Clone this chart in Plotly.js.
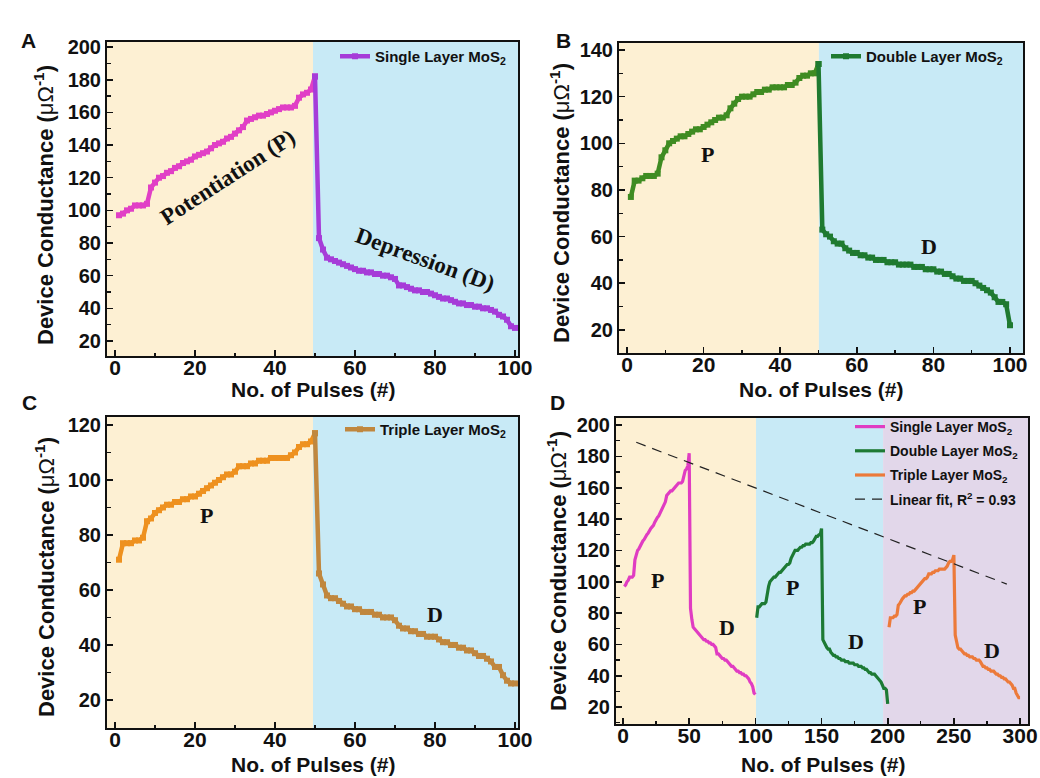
<!DOCTYPE html>
<html><head><meta charset="utf-8">
<script src="https://cdn.plot.ly/plotly-3.0.1.min.js"></script>
<style>html,body{margin:0;padding:0;background:#fff}#chart{width:1040px;height:778px}</style>
</head><body><div id="chart"></div>
<script>
// ---------- data ----------
const pulses = [1,2,3,4,5,6,7,8,9,10,11,12,13,14,15,16,17,18,19,20,21,22,23,24,25,26,27,28,29,30,31,32,33,34,35,36,37,38,39,40,41,42,43,44,45,46,47,48,49,50,
51,52,53,54,55,56,57,58,59,60,61,62,63,64,65,66,67,68,69,70,71,72,73,74,75,76,77,78,79,80,81,82,83,84,85,86,87,88,89,90,91,92,93,94,95,96,97,98,99,100];

const singleLayer = [97,98,100,101,103,103,103,104,114,117,120,121,123,124,126,127,129,130,131,133,134,135,136,138,140,141,142,144,145,147,149,151,155,156,157,158,158,159,160,161,162,163,163,163,164,169,171,172,174,182,
83,76,71,70,69,68,67,66,65,64,63,63,62,62,61,61,60,60,59,58,54,54,53,52,51,51,50,50,49,48,47,46,46,45,44,43,43,42,42,41,41,40,40,39,38,36,35,33,29,28];

const doubleLayer = [77,84,84,85,86,86,86,87,94,97,100,101,102,103,103,104,105,106,106,107,108,109,110,111,111,112,115,117,119,120,120,120,121,122,122,123,123,124,124,124,124,125,125,126,128,129,129,130,130,134,
63,61,60,58,57,57,55,54,53,53,52,52,51,51,50,50,50,49,49,49,48,48,48,48,47,47,47,46,46,46,45,45,44,44,43,42,42,41,41,41,40,39,38,37,36,34,32,32,31,22];

const tripleLayer = [71,77,77,77,78,78,79,85,86,88,89,90,91,91,92,92,93,93,94,94,95,96,97,98,99,100,101,102,102,103,105,105,105,106,106,107,107,107,108,108,108,108,108,109,110,112,113,113,114,117,
66,62,58,57,57,56,55,54,54,53,53,52,52,52,51,51,50,50,50,49,47,46,46,45,45,44,44,43,43,43,42,41,41,40,40,39,39,38,38,37,36,36,35,34,32,32,29,27,26,26];

const fitX = [10, 290];
const fitY = [189, 98.5];

const seriesNames = ['Single Layer MoS<sub>2</sub>', 'Double Layer MoS<sub>2</sub>', 'Triple Layer MoS<sub>2</sub>'];
const fitName = 'Linear fit, R<sup>2</sup> = 0.93';
const xTitle = 'No. of Pulses (#)';
const yTitle = 'Device Conductance (<span style="font-weight:normal">μΩ</span><sup>-1</sup>)';
const panelLetters = ['A', 'B', 'C', 'D'];
const splitAt = 49;            // index of pulse 50 (last potentiation pulse)
const blockOffsets = [0, 100, 200];   // pulse offsets of the three devices in panel D

// ---------- styling ----------
const SANS = 'Liberation Sans, Arial, sans-serif';
const SERIF = 'Liberation Serif, Times New Roman, serif';
const YELLOW = '#fdf0d3', BLUE = '#c8eaf6', PURPLE = '#e2d7ea';

function P(arr){ return arr.slice(0, splitAt + 1); }
function D(arr){ return arr.slice(splitAt); }
function shift(arr, off){ return arr.map(v => v + off); }

const traces = [];
function splitTraces(vals, xa, ya, cP, cD, name, legend){
  traces.push({x:P(pulses), y:P(vals), xaxis:xa, yaxis:ya, mode:'lines+markers', showlegend:false,
    line:{color:cP, width:4.5}, marker:{symbol:'square', size:6, color:cP}});
  traces.push({x:D(pulses), y:D(vals), xaxis:xa, yaxis:ya, mode:'lines+markers', name:name, legend:legend,
    line:{color:cD, width:4.5}, marker:{symbol:'square', size:6, color:cD}});
}
splitTraces(singleLayer, 'x', 'y', '#e13fc6', '#a63cd8', seriesNames[0], 'legend');
splitTraces(doubleLayer, 'x2', 'y2', '#3f8c22', '#1f7a30', seriesNames[1], 'legend2');
splitTraces(tripleLayer, 'x3', 'y3', '#ee911f', '#c0873e', seriesNames[2], 'legend3');

const dColors = ['#e03cc2', '#1d7a34', '#ec7a3a'];
[singleLayer, doubleLayer, tripleLayer].forEach((vals, i) => {
  traces.push({x:shift(pulses, blockOffsets[i]), y:vals, xaxis:'x4', yaxis:'y4', mode:'lines',
    name:seriesNames[i], legend:'legend4', legendgroup:'g'+i, line:{color:dColors[i], width:3.2}});
});
traces.push({x:fitX, y:fitY, xaxis:'x4', yaxis:'y4', mode:'lines', name:fitName, legend:'legend4',
  legendgroup:'g3', line:{color:'#222', width:1.2, dash:'10px,7px'}});

function axis(domain, range, dtick, minor, anchor, isX){
  const a = {domain, range, anchor, dtick, tick0:0, ticks:'inside', ticklen:6, tickwidth:1.6, tickcolor:'#111',
    minor:{dtick:minor, ticks:'inside', ticklen:3.5, tickwidth:1.3, tickcolor:'#111', showgrid:false},
    showgrid:false, zeroline:false, showline:true, linewidth:2, linecolor:'#111', mirror:true,
    tickfont:{family:SANS, size:isX ? 21 : 20, weight:'bold', color:'#111'}};
  if (isX) a.ticklabelstandoff = -8;
  return a;
}
const W = 1040, H = 778;
const dx = (a, b) => [a / W, b / W];
const dy = (top, bottom) => [1 - bottom / H, 1 - top / H];

const legendFont = {family:SANS, size:15, weight:'bold', color:'#111'};
const layout = {
  width:W, height:H, margin:{l:0, r:0, t:0, b:0}, paper_bgcolor:'#fff', plot_bgcolor:'#fff',
  showlegend:true,
  xaxis:  axis(dx(107, 518), [-2, 100.75], 20, 10, 'y', true),
  yaxis:  axis(dy(42, 356), [10.8, 203.1], 20, 10, 'x'),
  xaxis2: axis(dx(619, 1023), [-2.1, 103.4], 20, 10, 'y2', true),
  yaxis2: axis(dy(43, 353), [10.1, 143], 20, 10, 'x2'),
  xaxis3: axis(dx(107, 518), [-2, 100.75], 20, 10, 'y3', true),
  yaxis3: axis(dy(417, 728), [9.8, 122.9], 20, 10, 'x3'),
  xaxis4: axis(dx(616, 1028), [-5.3, 306], 50, 25, 'y4', true),
  yaxis4: axis(dy(418, 724), [9.2, 204.5], 20, 10, 'x4'),
  shapes: [],
  annotations: [],
  legend:  {x:335/W, y:1-40/H, xanchor:'left', yanchor:'top', bgcolor:'rgba(0,0,0,0)', font:legendFont},
  legend2: {x:826/W, y:1-40/H, xanchor:'left', yanchor:'top', bgcolor:'rgba(0,0,0,0)', font:legendFont},
  legend3: {x:340/W, y:1-413/H, xanchor:'left', yanchor:'top', bgcolor:'rgba(0,0,0,0)', font:legendFont},
  legend4: {x:850/W, y:1-411/H, xanchor:'left', yanchor:'top', bgcolor:'rgba(0,0,0,0)', tracegroupgap:3, font:{family:SANS, size:14, weight:'bold', color:'#111'}}
};

function band(xref, yref, x0, x1, color){
  layout.shapes.push({type:'rect', xref, yref:yref + ' domain', x0, x1, y0:0, y1:1, fillcolor:color, line:{width:0}, layer:'below'});
}
band('x', 'y', -2, 49.5, YELLOW);   band('x', 'y', 49.5, 100.75, BLUE);
band('x2', 'y2', -2.1, 50.1, YELLOW); band('x2', 'y2', 50.1, 103.4, BLUE);
band('x3', 'y3', -2, 49.5, YELLOW); band('x3', 'y3', 49.5, 100.75, BLUE);
band('x4', 'y4', -5.3, 100.5, YELLOW); band('x4', 'y4', 100.5, 196.5, BLUE); band('x4', 'y4', 196.5, 306, PURPLE);

const titleFont = {family:SANS, size:21, weight:'bold', color:'#111'};
const letterPos = [[19, 27], [563, 27], [20, 402], [557, 402]];
panelLetters.forEach((t, i) => layout.annotations.push({text:t, xref:'paper', yref:'paper', x:letterPos[i][0]/W, y:1-letterPos[i][1]/H,
  showarrow:false, font:titleFont}));

// x-axis titles: [centre x, y, anchor] in pixels
const xTitlePos = [[313, 390, 'middle'], [821, 390, 'middle'], [313, 778, 'bottom'], [823, 778, 'bottom']];
xTitlePos.forEach(p => layout.annotations.push({text:xTitle, xref:'paper', yref:'paper', x:p[0]/W, y:1-p[1]/H,
  xanchor:'center', yanchor:p[2], showarrow:false, font:titleFont}));

// y-axis titles: [centre x, centre y] in pixels
const yTitlePos = [[44, 205], [560, 203], [45, 577], [557, 571]];
yTitlePos.forEach(p => layout.annotations.push({text:yTitle, xref:'paper', yref:'paper', x:p[0]/W, y:1-p[1]/H,
  xanchor:'center', yanchor:'middle', textangle:-90, showarrow:false, font:{family:SANS, size:22, weight:'bold', color:'#111'}}));

function label(text, xref, yref, x, y, size, angle){
  layout.annotations.push({text, xref, yref, x, y, showarrow:false, textangle:angle || 0,
    font:{family:SERIF, size, weight:'bold', color:'#111'}});
}
label('Potentiation (P)', 'x', 'y', 28, 120.4, 23, -33);
label('Depression (D)', 'x', 'y', 77.5, 69.6, 23, 20);
label('P', 'x2', 'y2', 21.1, 95.4, 22); label('D', 'x2', 'y2', 78.9, 55.6, 22);
label('P', 'x3', 'y3', 22.75, 86.9, 22); label('D', 'x3', 'y3', 80, 50.9, 22);
label('P', 'x4', 'y4', 25.7, 101, 22); label('D', 'x4', 'y4', 78.6, 71, 22);
label('P', 'x4', 'y4', 127.7, 96.6, 22); label('D', 'x4', 'y4', 176, 62, 22);
label('P', 'x4', 'y4', 223.7, 84, 22); label('D', 'x4', 'y4', 279, 56, 22);

Plotly.newPlot('chart', traces, layout, {staticPlot:true});
</script></body></html>
